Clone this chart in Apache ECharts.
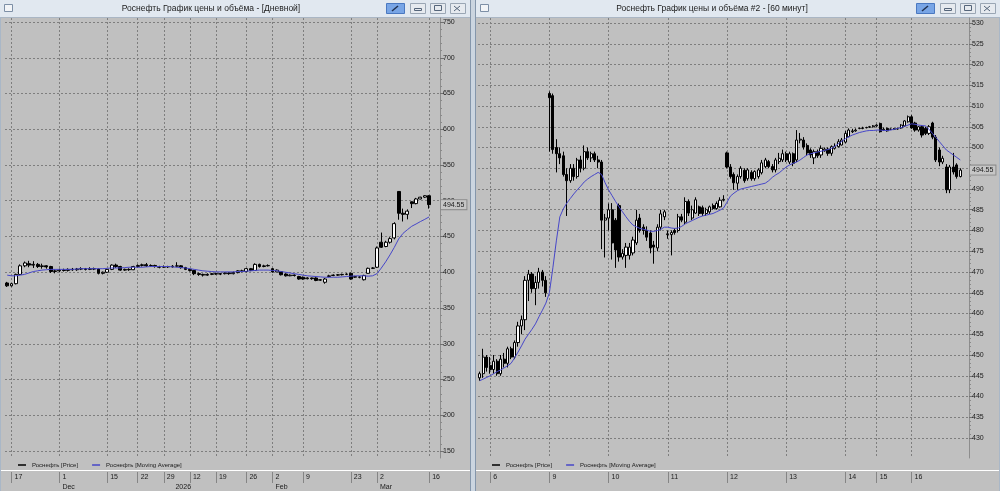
<!DOCTYPE html>
<html><head><meta charset="utf-8">
<script src="https://cdn.jsdelivr.net/npm/echarts@6.0.0/dist/echarts.min.js"></script>
<style>html,body{margin:0;padding:0;background:#c0c0c0;overflow:hidden}#c{width:1000px;height:491px}</style>
</head><body><div id="c"></div><script>
// ---------- data ----------
const leftTitle = 'Роснефть График цены и объёма - [Дневной]';
const rightTitle = 'Роснефть График цены и объёма #2 - [60 минут]';
const priceName = 'Роснефть [Price]';
const maName = 'Роснефть [Moving Average]';
const lastPrice = 494.55;

// daily bars [open, close, low, high]
const leftCandles = [
[385,381,379.5,386.5],[381,384,380,385],[384,397,383,398],[397,409,396,411],[409,413,407,415],
[412,410,407,416],[410,411,406,415.5],[411,408,406,413],[408,409,405,412],[409,407.5,405,410],
[408,401,399,409],[401,402,398.5,404],[402,403,400,405],[403,402.5,401,405],[402.5,404,401,405.5],
[404,403.5,402,406],[403.5,404.5,402,406],[404.5,405,403,407],[405,404,402.5,406],[404,405,403,407],
[405,404.5,403,406.5],[404.5,398.5,397,405],[398.5,400,397,401],[400,404,399,405],[404,410,403,411],
[410,408,406,412],[408,403,402,409],[403,404,402,405],[404,403.5,402,405.5],[403.5,408,403,409],
[408,409.5,406.5,411],[409.5,410.5,408,412],[410.5,409,407.5,413],[409,409.5,408,411],[409.5,408,406.5,410.5],
[408,407,405.5,409],[407,408,406,409.5],[408,407.5,406,409],[407.5,408.5,406.5,410],[408.5,409,407,414],
[409,406.5,405,410],[406.5,404,403,407.5],[404,402.5,401,405],[402.5,398,396,403],[398,397,395,399.5],
[397,396,394,398],[396,397,395,398.5],[397,398,396,399],[398,397.5,396.5,399.5],[397.5,398,396,399],
[398,399,397,400],[399,398,396.5,400],[398,399.5,397,401],[399.5,402,398.5,403],[402,401,400,403.5],
[401,405,400,406],[405,402.5,401.5,406],[402.5,411,402,412.5],[411,408,406.5,412],[408,409,407,410.5],
[409,409.5,408,411],[405,400.5,399.5,406],[400.5,403,400,404],[401,396.5,395.5,401.5],[397.5,395,394,398.5],
[395,396,394.5,397],[396,395.5,394,397],[394,390.5,389.5,395],[393,390.5,389.5,394],[391,392,390,393],
[392,391,389.5,392.5],[392,388.5,387.5,393],[389,389.5,388,390.5],[386,390.5,384,392],[394,395,393,396.5],
[395.5,396,394.5,397],[396,396.5,395,397.5],[396.5,397,395.5,398],[397,397.5,396,398.5],[398.5,390.5,389.5,399.5],
[393,394,392,395],[393.5,393,391.5,394.5],[389.5,395.5,388.5,396.5],[398.5,405.5,398,406.5],[405.5,406,404.5,407],
[407,434,406,436],[442,435,434,455.5],[436,442,435,444],[442,447,440,449],[448,468,446,470],
[513,482.5,473.5,513.5],[482.5,481,471,489],[481,485.5,474,488],[498.5,496,489.8,499],[496,502.5,495,504],
[502.5,505,502,505.5],[505,507,503.8,507.8],[507,494.55,489,507.8]
];
const leftMA = [
396,395,395,396,397, 399,401,402,403,403.5, 404,404,404,404,404, 404,404.5,405,405,405,
405,405,405,405.5,406, 406,406,406.5,407,407, 407,407,407.5,408,408, 408,408,408,407.5,407,
406.5,406,405,404,403, 402,401.5,401,400.5,400.5, 400.5,400.5,400.5,401,401, 401.5,402,402.5,403,403,
403,402.5,402,401,400, 399,398,397,396,395, 394.5,394,393.5,393,393, 393,393,393.5,394,394.5,
395,395,395,394.5,395, 398,405.8,414.5,424.3,434.8, 446.6,454.4,459.5,464.3,467.5, 470.9,474,477.4
];
const leftSlots = 100;
const leftTickIdx = [1,12,23,30,36,42,48,55,61,68,79,85,97];
const leftTickText = ['17','1','15','22','29','12','19','26','2','9','23','2','16'];
const leftMonthIdx = [12,38,61,85];
const leftMonthText = ['Dec','2026','Feb','Mar'];
const leftY = {min:150, max:750, step:50};

// hourly bars [open, close, low, high]
const rightCandles = [
[444.5,445.5,443.8,446],[445.5,449.5,444.5,451.5],[449.5,447,446,450],[447.5,446.5,445.5,449.5],[446.5,448.5,445.5,450],
[448.5,445.5,445,449],[445.5,449,445,450],[449,448,447,450.5],[448,451.5,447,452],[451.5,449.5,449,452],
[449.5,453,449,453.5],[453,457,452,458],[457,458.5,455,459.5],[458.5,468,456,469],[468,469.5,463,470.5],
[469.5,466,465,470],[466,467.5,462,469],[467.5,470,466,471],[470,468,466.5,470.5],[468,465,464,469],
[513,512,499,513.5],[512.5,499.5,498.5,513],[500,498.5,494,502],[498.5,497.5,496,500],[498,493.5,493,499],
[493.5,492,483.5,495],[492,495,491.5,496],[495,493,492,496],[493,497,492.5,497.5],[497,495,494,498],
[495,499,494.5,500.5],[499,497.5,497,500],[497.5,498.5,496.5,499],[498.5,497,496.5,499],[497,496.5,495,498],
[496.5,482.5,475.5,497],[482.5,483,473.5,484],[483,485,480,486.5],[485,477,473,486.6],[482.5,475.3,471,483],
[486,473.6,472.5,486.5],[473.6,474.5,473,475.5],[474,476,471,477],[474,476,473,477],[474.6,477.7,474,478.5],
[477,482.5,476.5,485],[483,480,479.5,484],[480.8,480,479,481.5],[480,478.4,477.5,481],[479.4,475.8,474.5,480],
[476.5,476,472,477.5],[475.8,480.8,475,481.5],[480.8,484,480,485],[483.3,484.5,482.5,485],[479,479.2,478,480],
[479,479.5,474,480],[480,479.5,479,480.5],[480,483.3,479.5,484],[483.3,482.5,482,484],[482,487,481.5,488],
[487,484.2,483.5,487.5],[483,485,482.5,486],[484.2,487.4,484,488],[485.7,484.1,483.5,486],[485.5,484.1,483.5,486],
[484.1,485,483.5,485.5],[484.5,485.7,484,486],[486,485.3,485,486.5],[485.3,486.5,485,487],[485.7,487.3,485.5,488],
[487.3,487.5,487,488.5],[498.7,495.3,495,499],[495.3,493,492.5,496],[493.5,491.5,489.8,494],[491.4,493,489.8,493.5],
[493,495,492.5,495.5],[494.5,492,491.5,495],[492.5,494.6,492,495],[494,492.5,492,494.5],[492.5,494.2,492,494.5],
[493,494.6,492.5,495],[493.9,496.3,493.5,497],[495.4,497,495,497.5],[496.6,495.4,495,497],[495.4,494.6,494,496],
[494.6,497,494,497.5],[496.6,497.4,496,498.7],[497,498.5,496.5,499.5],[498.5,497,496.5,499],[496.5,498.5,496,499],
[498.5,496.2,495.5,498.8],[497,501.8,496.5,504.2],[501.8,502,501,503.5],[501.8,500.1,499.5,502.5],[500.5,498.7,498,501],
[499.4,498.2,497.5,499.8],[497.5,499,496,499.5],[499,498,497.5,499.5],[498.2,499.8,497.5,500.5],[499.2,499.6,499,500],
[499.6,498.6,498,500],[498.6,500.2,498,500.5],[499.8,500.2,499.5,501],[500.2,501.4,500,502],[500.6,501.8,500.5,502.3],
[501.3,503.4,501,504],[502.6,504.2,502.5,504.6],[503.8,504,503.5,504.5],[504,504.2,503.8,504.6],[504.6,504.6,504.4,504.8],
[504.6,504.7,504.4,505],[504.8,504.8,504.6,505],[504.9,505,504.7,505.2],[505,505.2,504.8,505.4],[505.2,505.4,505,505.6],
[505.8,503.8,503.6,506],[504.2,504.4,504,504.8],[504.6,504,503.8,504.8],[504.4,504.4,504.2,504.6],[504.4,504.5,504.2,504.7],
[504.5,504.5,504.3,504.8],[504.7,505.4,504.5,505.6],[505.2,506.4,505,506.6],[506.2,507.4,506,507.7],[507.4,504.7,504.5,507.8],
[505.9,504.2,503.8,506.2],[504.2,505,503.8,505.2],[505,503,502.4,505.4],[504.6,503.4,503,505],[503.4,505,503,505.4],
[505.9,502.5,502,506.2],[502.5,497,496.5,503],[499.4,496.5,495.5,500],[496.5,497.4,496,498],[495.3,489.8,489,496],
[489.8,495.3,489,495.8],[495.3,494.1,493.5,498.7],[495.8,493,492.5,496.2],[493,494.55,492.8,495]
];
const rightMA = [
443.8,444.2,444.6,445,445.5,446,446.4,446.9,447.4,448, 449.3,450.7,452.2,453.8,455,456.2,457.5,459.2,460.8,462.5,
465,471,477.5,483.3,485.2,486.6,487.7,488.8,489.8,490.7, 491.7,492.4,493,493.5,494,493.5,491.5,489.8,488.4,487,
485.7,484.5,483.3,482.2,481.3,480.9,480.5,480.3,480.1,479.8, 479.8,480,480.3,480.8,480.8,480.6,480.5,480.6,481,481.6,
482,482.4,482.8,483.2,483.5,483.7,483.9,484.1,484.5,484.9, 485.4,486.8,488.3,489,489.6,490,490.2,490.4,490.6,490.8,
491,491.2,491.4,492,492.8,493.4,493.9,494.6,495.3,495.8, 496.2,496.5,497,497.6,498.2,498.5,498.7,498.9,499.1,499.3,
499.5,499.8,500.3,500.9,501.5,502.1,502.6,503,503.3,503.6, 503.8,504,504.1,504.1,504.2,504.2,504.1,504.1,504.2,504.4,
504.6,504.8,505.1,505.4,505.7,505.6,505.4,505.3,505.2,504.4, 503.4,502.4,501.4,500.4,499.4,498.8,498.2,497.6,497
];
const rightSlots = 141;
const rightTickIdx = [3,20,37,54,71,88,105,114,124];
const rightTickText = ['6','9','10','11','12','13','14','15','16'];
const rightY = {min:430, max:530, step:5};

// ---------- styling ----------
const FONT = 'Liberation Sans';
const GRIDC = '#7e7e7e';
const MAC = '#4747c9';
const slotsL = Array.from({length:leftSlots}, (_, i) => 'd' + i);
const slotsR = Array.from({length:rightSlots}, (_, i) => 'h' + i);
const inList = arr => (i) => arr.indexOf(i) >= 0;
const txt = (arr, t) => (v, i) => { const k = arr.indexOf(i); return k >= 0 ? t[k] : ''; };

const P = {
  L: {x:5, w:435, bgTop:18, bgH:440, top:22, h:429},
  R: {x:478, w:491, bgTop:18, bgH:440, top:23, h:415}
};

const grids = [
  {left:P.L.x, top:P.L.bgTop, width:P.L.w, height:P.L.bgH},
  {left:P.L.x, top:P.L.top, width:P.L.w, height:P.L.h},
  {left:P.R.x, top:P.R.bgTop, width:P.R.w, height:P.R.bgH},
  {left:P.R.x, top:P.R.top, width:P.R.w, height:P.R.h}
].map(g => Object.assign(g, {containLabel:false, outerBoundsMode:'none', show:false}));

function bgX(grid, cats, ticks) {
  return {type:'category', gridIndex:grid, data:cats, boundaryGap:true,
    axisLine:{show:false}, axisTick:{show:false, alignWithLabel:true, interval:inList(ticks)},
    axisLabel:{show:false},
    splitLine:{show:true, alignWithLabel:true, interval:inList(ticks), lineStyle:{color:GRIDC, type:[2,2], width:1}}};
}
function dayX(grid, cats, ticks, texts, offset) {
  return {type:'category', gridIndex:grid, data:cats, boundaryGap:true, position:'bottom', offset:offset,
    axisLine:{show:false},
    axisTick:{show:true, alignWithLabel:true, interval:inList(ticks), length:11, lineStyle:{color:'#858585'}},
    axisLabel:{show:true, interval:inList(ticks), formatter:txt(ticks, texts), align:'left', verticalAlign:'top',
      margin:2, padding:[0,0,0,3], fontSize:7, fontFamily:FONT, color:'#1a1a1a'},
    splitLine:{show:false}};
}
function monthX(grid, cats, ticks, texts, offset) {
  return {type:'category', gridIndex:grid, data:cats, boundaryGap:true, position:'bottom', offset:offset,
    axisLine:{show:false}, axisTick:{show:false},
    axisLabel:{show:true, interval:inList(ticks), formatter:txt(ticks, texts), align:'left', verticalAlign:'top',
      margin:1, padding:[0,0,0,3], fontSize:7, fontFamily:FONT, color:'#1a1a1a'},
    splitLine:{show:false}};
}
function dataX(grid, cats) {
  return {type:'category', gridIndex:grid, data:cats, boundaryGap:true, show:false};
}
function bgY(grid) {
  return {type:'value', gridIndex:grid, min:0, max:1, position:'right',
    axisLine:{show:true, lineStyle:{color:'#8d8d8d', width:1}}, axisTick:{show:false},
    axisLabel:{show:false}, splitLine:{show:false}};
}
function dataY(grid, r) {
  return {type:'value', gridIndex:grid, min:r.min, max:r.max, interval:r.step, position:'right', scale:true,
    axisLine:{show:false},
    axisTick:{show:true, length:4, lineStyle:{color:'#707070'}},
    minorTick:{show:true, splitNumber:5, length:2, lineStyle:{color:'#8a8a8a'}},
    axisLabel:{show:true, margin:3, fontSize:7, fontFamily:FONT, color:'#1a1a1a'},
    splitLine:{show:true, lineStyle:{color:GRIDC, type:[2,2], width:1}},
    minorSplitLine:{show:false}};
}

function candle(name, xi, yi, data, bw) {
  return {name:name, type:'candlestick', xAxisIndex:xi, yAxisIndex:yi, data:data, barWidth:bw,
    itemStyle:{color:'#ffffff', color0:'#000000', borderColor:'#000000', borderColor0:'#000000', borderWidth:1},
    markLine:{silent:true, symbol:['none','none'], animation:false,
      lineStyle:{color:'rgba(0,0,0,0)', width:0.01},
      label:{show:true, position:'end', distance:1, formatter:String(lastPrice), fontSize:7, fontFamily:FONT,
        color:'#1a1a1a', backgroundColor:'#c6c6c6', borderColor:'#8a8a8a', borderWidth:1, padding:[1,2,1,2], opacity:1},
      emphasis:{disabled:true},
      data:[{yAxis:lastPrice}]}};
}
function maLine(name, xi, yi, data) {
  return {name:name, type:'line', xAxisIndex:xi, yAxisIndex:yi, data:data, showSymbol:false, symbol:'none',
    lineStyle:{color:MAC, width:1}, itemStyle:{color:MAC}, z:3};
}

// ---------- chrome ----------
const G = [];
function R(x,y,w,h,fill,stroke){ G.push({type:'rect', silent:true, shape:{x:x,y:y,width:w,height:h},
  style:{fill:fill||'none', stroke:stroke||null, lineWidth:1}, z:-5}); }
function T(x,y,t,size,align){ G.push({type:'text', silent:true, x:x, y:y,
  style:{text:t, font:size+'px "Liberation Sans"', fill:'#1b1b1b', align:align||'center', verticalAlign:'middle'}, z:-4}); }
function L(x1,y1,x2,y2,c,w){ G.push({type:'line', silent:true, shape:{x1:x1,y1:y1,x2:x2,y2:y2},
  style:{stroke:c, lineWidth:w||1}, z:-4}); }
function win(x0, x1, title, tcx) {
  R(x0, 0, x1-x0, 17, '#e1e8f0');
  L(x0, 17.5, x1, 17.5, '#aab6c4');
  R(x0+4.5, 4.5, 8, 7, '#f2f4f7', '#7d8fa6');
  T(tcx, 9, title, 8.5);
  const b = x1 - 84;
  R(b+0.5, 3.5, 18, 10, '#78a5e6', '#4a78c0');
  L(b+6, 11, b+12, 6, '#203050', 1.5);
  for (let k=0;k<3;k++){ R(b+24.5+k*20, 3.5, 15, 10, '#e6eaef', '#9aa6b4'); }
  R(b+28.5, 8.5, 7, 2, 'none', '#55657a');
  R(b+48.5, 5.5, 7, 5, 'none', '#55657a');
  L(b+68, 6, b+74, 11, '#55657a'); L(b+74, 6, b+68, 11, '#55657a');
  L(x0, 470.5, x1, 470.5, '#ffffff');
}
win(0, 470, leftTitle, 211);
win(476, 1000, rightTitle, 712);
R(470, 0, 6, 491, '#cbd5e0');
L(470.5, 0, 470.5, 491, '#8496ab');
L(475.5, 0, 475.5, 491, '#8496ab');
L(0.5, 17, 0.5, 491, '#a9b7c7');
L(999.5, 17, 999.5, 491, '#a9b7c7');

const legendItems = [
  {name:priceName, icon:'rect', itemStyle:{color:'#000000', borderWidth:0}},
  {name:maName, icon:'rect', itemStyle:{color:MAC, borderWidth:0}}
];
function legend(x) {
  return {show:true, left:x, top:462, orient:'horizontal', itemWidth:8, itemHeight:1.5, itemGap:14,
    selectedMode:false, padding:0, data:legendItems,
    textStyle:{fontSize:6, fontFamily:FONT, color:'#1a1a1a', padding:[0,0,0,1]}};
}

const option = {
  animation:false,
  backgroundColor:'#c0c0c0',
  grid:grids,
  legend:[legend(18), legend(492)],
  xAxis:[
    bgX(0, slotsL, leftTickIdx), dataX(1, slotsL),
    dayX(0, slotsL, leftTickIdx, leftTickText, 14), monthX(0, slotsL, leftMonthIdx, leftMonthText, 25),
    bgX(2, slotsR, rightTickIdx), dataX(3, slotsR),
    dayX(2, slotsR, rightTickIdx, rightTickText, 14)
  ],
  yAxis:[bgY(0), dataY(1, leftY), bgY(2), dataY(3, rightY)],
  series:[
    candle(priceName, 1, 1, leftCandles, 3.4),
    maLine(maName, 1, 1, leftMA),
    candle(priceName, 5, 3, rightCandles, 2.6),
    maLine(maName, 5, 3, rightMA)
  ],
  graphic:{elements:G}
};
const chart = echarts.init(document.getElementById('c'), null, {renderer:'canvas'});
chart.setOption(option);
</script></body></html>
